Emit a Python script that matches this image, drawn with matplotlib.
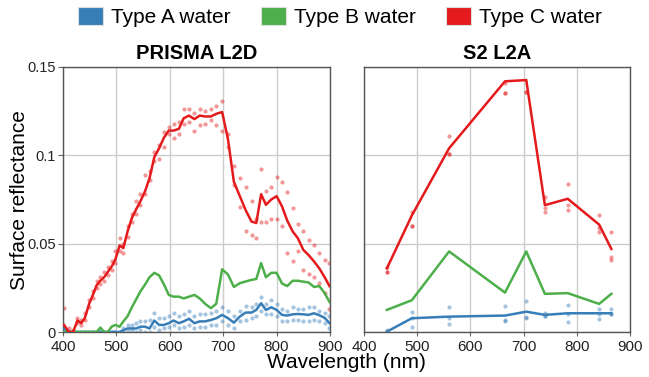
import matplotlib
matplotlib.use('Agg')
import matplotlib.pyplot as plt
from matplotlib.patches import Patch

plt.rcParams['font.family'] = ['Liberation Sans', 'DejaVu Sans']

# PRISMA L2D band centres (nm)
prisma_wl = [402, 411, 419, 427, 434, 441, 449, 456, 463, 470, 477, 484, 491, 498,
             506, 513, 521, 529, 537, 545, 554, 562, 571, 580, 589, 598, 607, 617,
             626, 636, 646, 656, 666, 677, 687, 698, 709, 720, 731, 742, 753, 762,
             771, 780, 790, 800, 810, 820, 830, 840, 850, 860, 870, 880, 890, 899]

# mean spectra
prisma_a = [0.002, 0, 0, 0, 0, 0, 0, 0, 0, 0, 0, 0, 0, 0,
            0, 0.001, 0.002, 0.002, 0.002, 0.003, 0.003, 0.002, 0.0065, 0.004, 0.004, 0.005, 0.0065, 0.005,
            0.006, 0.0075, 0.005, 0.006, 0.006, 0.0068, 0.0078, 0.0097, 0.0078, 0.0053, 0.0087, 0.011, 0.011, 0.0125,
            0.0163, 0.0125, 0.014, 0.0125, 0.0097, 0.0093, 0.010, 0.0102, 0.010, 0.0097, 0.0106, 0.0095, 0.008, 0.005]
prisma_b = [0, 0, 0, 0, 0, 0, 0, 0, 0, 0.0025, 0, 0, 0.003, 0.004,
            0.003, 0.006, 0.009, 0.014, 0.0185, 0.023, 0.027, 0.031, 0.0335, 0.032, 0.027, 0.021, 0.020, 0.020,
            0.019, 0.020, 0.021, 0.019, 0.016, 0.0135, 0.016, 0.0355, 0.0325, 0.0255, 0.0276, 0.0286, 0.0295, 0.030,
            0.039, 0.031, 0.0335, 0.0335, 0.0275, 0.026, 0.029, 0.029, 0.0285, 0.028, 0.0255, 0.026, 0.022, 0.017]
prisma_c = [0.004, 0, 0, 0.0065, 0.005, 0.008, 0.016, 0.021, 0.0265, 0.029, 0.031, 0.034, 0.037, 0.041,
            0.049, 0.0475, 0.057, 0.0645, 0.0695, 0.074, 0.080, 0.087, 0.099, 0.104, 0.110, 0.114, 0.114, 0.115,
            0.121, 0.1225, 0.1205, 0.1225, 0.122, 0.122, 0.1235, 0.1245, 0.109, 0.085, 0.077, 0.069, 0.0625, 0.0617,
            0.078, 0.072, 0.075, 0.0769, 0.0712, 0.063, 0.057, 0.053, 0.0465, 0.0435, 0.040, 0.036, 0.031, 0.026]

# individual samples
prisma_a_hi = [0, 0, 0, 0, 0, 0, 0, 0, 0, 0, 0, 0, 0, 0,
               0, 0.002, 0.004, 0.004, 0.005, 0.006, 0.006, 0.007, 0.011, 0.008, 0.008, 0.009, 0.011, 0.009,
               0.010, 0.012, 0.009, 0.010, 0.010, 0.011, 0.012, 0.014, 0.012, 0.009, 0.012, 0.015, 0.014, 0.016,
               0.020, 0.016, 0.018, 0.016, 0.013, 0.012, 0.014, 0.013, 0.013, 0.014, 0.014, 0.012, 0.011, 0.009]
prisma_a_lo = [0, 0, 0, 0, 0, 0, 0, 0, 0, 0, 0, 0, 0, 0,
               0, 0, 0.0005, 0.001, 0, 0.001, 0, 0, 0.003, 0.001, 0.002, 0.003, 0.004, 0.002,
               0.003, 0.004, 0.002, 0.003, 0.003, 0.004, 0.004, 0.006, 0.004, 0.002, 0.006, 0.007, 0.008, 0.009,
               0.012, 0.010, 0.010, 0.009, 0.006, 0.006, 0.007, 0.007, 0.006, 0.006, 0.007, 0.006, 0.005, 0.002]
prisma_c_hi = [0.0135, 0.002, 0.001, 0.008, 0.007, 0.011, 0.018, 0.023, 0.029, 0.031, 0.034, 0.037, 0.040, 0.046,
               0.053, 0.050, 0.060, 0.067, 0.074, 0.078, 0.089, 0.091, 0.102, 0.106, 0.113, 0.116, 0.118, 0.119,
               0.126, 0.126, 0.124, 0.126, 0.125, 0.126, 0.128, 0.131, 0.112, 0.094, 0.087, 0.082, 0.074, 0.064,
               0.092, 0.080, 0.082, 0.088, 0.085, 0.079, 0.070, 0.061, 0.057, 0.052, 0.049, 0.045, 0.041, 0.039]
prisma_c_lo = [0, 0, 0, 0.005, 0.004, 0.007, 0.014, 0.019, 0.025, 0.027, 0.029, 0.032, 0.035, 0.039,
               0.046, 0.045, 0.054, 0.062, 0.067, 0.072, 0.078, 0.086, 0.097, 0.098, 0.105, 0.112, 0.110, 0.112,
               0.118, 0.119, 0.114, 0.117, 0.118, 0.120, 0.117, 0.114, 0.105, 0.083, 0.071, 0.057, 0.055, 0.053,
               0.062, 0.062, 0.064, 0.064, 0.060, 0.045, 0.040, 0.046, 0.035, 0.033, 0.031, 0.028, 0.022, 0.013]

# Sentinel-2 L2A bands (nm)
s2_wl = [443, 490, 560, 665, 705, 740, 783, 842, 865]
s2_a = [0.0002, 0.0078, 0.0087, 0.0093, 0.0115, 0.0097, 0.0106, 0.0106, 0.0106]
s2_b = [0.0125, 0.018, 0.0456, 0.0223, 0.0456, 0.0216, 0.022, 0.0159, 0.0216]
s2_c = [0.036, 0.066, 0.104, 0.1419, 0.1426, 0.0718, 0.0754, 0.0608, 0.047]

s2_a_samples = [[0.001, 0.0115, 0.014, 0.0148, 0.0176, 0.0106, 0.0152, 0.0129, 0.0129],
                [0.0, 0.008, 0.008, 0.0068, 0.0087, 0.0093, 0.0100, 0.0100, 0.0102],
                [0.0, 0.003, 0.0044, 0.006, 0.0078, 0.0093, 0.0059, 0.0072, 0.0102]]
s2_c_samples = [[0.037, 0.0678, 0.111, 0.141, 0.151, 0.0763, 0.0835, 0.066, 0.0564],
                [0.0337, 0.0598, 0.101, 0.135, 0.136, 0.070, 0.072, 0.059, 0.0424],
                [0.0337, 0.0598, 0.101, 0.135, 0.136, 0.068, 0.069, 0.0566, 0.041]]

col_a = '#377eb8'
col_b = '#4daf4a'
col_c = '#e41a1c'
labels = ['Type A water', 'Type B water', 'Type C water']
yticks = [0, 0.05, 0.1, 0.15]
ytick_labels = ['0', '0.05', '0.1', '0.15']
xticks = [400, 500, 600, 700, 800, 900]

fig = plt.figure(figsize=(6.49, 3.77), dpi=100)
ax1 = fig.add_axes([63 / 649, 45 / 377, 267 / 649, 265 / 377])
ax2 = fig.add_axes([364 / 649, 45 / 377, 266 / 649, 265 / 377])


def style(ax, title, show_y):
    ax.set_xlim(400, 900)
    ax.set_ylim(0, 0.15)
    ax.set_xticks(xticks)
    ax.set_yticks(yticks)
    if show_y:
        ax.set_yticklabels(ytick_labels)
        ax.tick_params(axis='y', length=3.5, width=0.8, color='#666666', pad=1.5,
                       labelsize=10.5, labelcolor='#222222')
    else:
        ax.set_yticklabels([])
        ax.tick_params(axis='y', length=0)
    ax.tick_params(axis='x', length=3, width=0.8, color='#666666', pad=2.5,
                   labelsize=11, labelcolor='#222222')
    ax.grid(True, color='#cccccc', lw=1)
    ax.set_axisbelow(True)
    for sp in ax.spines.values():
        sp.set_color('#555555')
        sp.set_linewidth(1.0)
    ax.set_title(title, fontsize=14.5, fontweight='bold', pad=6)


# PRISMA panel
ax1.scatter(prisma_wl, prisma_a_hi, s=9, color=col_a, alpha=0.45, lw=0, zorder=2)
ax1.scatter(prisma_wl, prisma_a_lo, s=9, color=col_a, alpha=0.45, lw=0, zorder=2)
ax1.scatter(prisma_wl, prisma_c_hi, s=9, color=col_c, alpha=0.45, lw=0, zorder=2)
ax1.scatter(prisma_wl, prisma_c_lo, s=9, color=col_c, alpha=0.45, lw=0, zorder=2)
ax1.plot(prisma_wl, prisma_a, color=col_a, lw=1.8, zorder=3)
ax1.plot(prisma_wl, prisma_b, color=col_b, lw=1.8, zorder=3)
ax1.plot(prisma_wl, prisma_c, color=col_c, lw=1.8, zorder=4)
style(ax1, 'PRISMA L2D', True)

# S2 panel
for row in s2_a_samples:
    ax2.scatter(s2_wl, row, s=9, color=col_a, alpha=0.45, lw=0, zorder=2)
for row in s2_c_samples:
    ax2.scatter(s2_wl, row, s=9, color=col_c, alpha=0.45, lw=0, zorder=2)
ax2.plot(s2_wl, s2_a, color=col_a, lw=1.8, zorder=3)
ax2.plot(s2_wl, s2_b, color=col_b, lw=1.8, zorder=3)
ax2.plot(s2_wl, s2_c, color=col_c, lw=1.8, zorder=4)
style(ax2, 'S2 L2A', False)

fig.text(20 / 649, 1 - 200 / 377, 'Surface reflectance', rotation=90,
         ha='center', va='center', fontsize=15)
fig.text(346 / 649, 1 - 363 / 377, 'Wavelength (nm)', ha='center', va='center',
         fontsize=15)

handles = [Patch(facecolor=c, edgecolor='#dddddd', lw=0.8) for c in (col_a, col_b, col_c)]
fig.legend(handles, labels, loc='center', bbox_to_anchor=(340 / 649, 1 - 17 / 377),
           ncol=3, frameon=False, fontsize=15, handlelength=1.2, handleheight=1.0,
           handletextpad=0.4, columnspacing=1.45, borderpad=0, borderaxespad=0)

fig.savefig('out.png', dpi=100)
